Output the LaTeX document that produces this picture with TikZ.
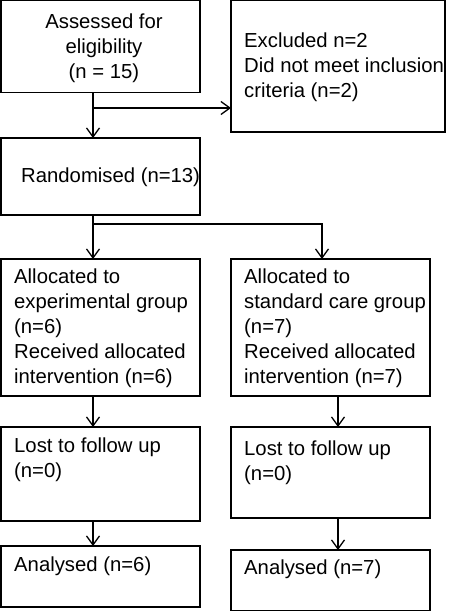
\documentclass[tikz,border=0pt]{standalone}
\usepackage{fontspec}
\setmainfont{Liberation Sans}
\usetikzlibrary{arrows.meta}

\begin{document}
\begin{tikzpicture}[x=1pt, y=-1pt,
        box/.style={draw, line width=1.3pt, rectangle, anchor=north west, minimum width=199pt, inner sep=0pt, outer sep=0pt},
        txt/.style={inner sep=0pt, align=left, anchor=west, font=\fontsize{20.3}{25}\selectfont},
        arr/.style={line width=1.3pt, -{Straight Barb[length=9pt, width=13pt, line width=1.3pt]}}]
        \useasboundingbox (0,0) rectangle (473,612);

        % boxes
        \node[box, minimum height=92pt] (assess) at (1,0.7) {};
        \node[box, minimum width=214pt, minimum height=131.3pt] (excl) at (231,0.7) {};
        \node[box, minimum height=77pt] (random) at (1,138) {};
        \node[box, minimum height=137pt] (alloc1) at (1,259) {};
        \node[box, minimum height=137pt] (alloc2) at (231,259) {};
        \node[box, minimum height=94pt] (lost1) at (1,427) {};
        \node[box, minimum height=91pt] (lost2) at (231,427) {};
        \node[box, minimum height=61pt] (anal1) at (1,546) {};
        \node[box, minimum height=60.5pt] (anal2) at (231,550) {};

        % texts
        \node[txt, align=center, anchor=center] (assess-t) at (104,48) {Assessed for\\eligibility\\(n = 15)};
        \node[txt] (excl-t) at (244,67) {Excluded n=2\\Did not meet inclusion\\criteria (n=2)};
        \node[txt] (random-t) at (21,177) {Randomised (n=13)};
        \node[txt] (alloc1-t) at (14,328) {Allocated to\\experimental group\\(n=6)\\Received allocated\\intervention (n=6)};
        \node[txt] (alloc2-t) at (244,328) {Allocated to\\standard care group\\(n=7)\\Received allocated\\intervention (n=7)};
        \node[txt] (lost1-t) at (14,459.5) {Lost to follow up\\(n=0)};
        \node[txt] (lost2-t) at (244,462.5) {Lost to follow up\\(n=0)};
        \node[txt] (anal1-t) at (14,566) {Analysed (n=6)};
        \node[txt] (anal2-t) at (244,569) {Analysed (n=7)};

        % arrows
        \coordinate (split1) at (93,108);
        \coordinate (split2) at (93,224);
        \draw[arr] ([xshift=-7.5pt]assess.south) -- ([xshift=-7.5pt]random.north);
        \draw[arr] (split1) -- (split1 -| excl.west);
        \draw[arr] ([xshift=-7.5pt]random.south) -- ([xshift=-7.5pt]alloc1.north);
        \draw[arr] (split2) -| ([xshift=-8.5pt]alloc2.north);
        \draw[arr] ([xshift=-7.5pt]alloc1.south) -- ([xshift=-7.5pt]lost1.north);
        \draw[arr] ([xshift=7.5pt]alloc2.south) -- ([xshift=7.5pt]lost2.north);
        \draw[arr] ([xshift=-7.5pt]lost1.south) -- ([xshift=-7.5pt]anal1.north);
        \draw[arr] ([xshift=7.5pt]lost2.south) -- ([xshift=7.5pt]anal2.north);
    \end{tikzpicture}
\end{document}
